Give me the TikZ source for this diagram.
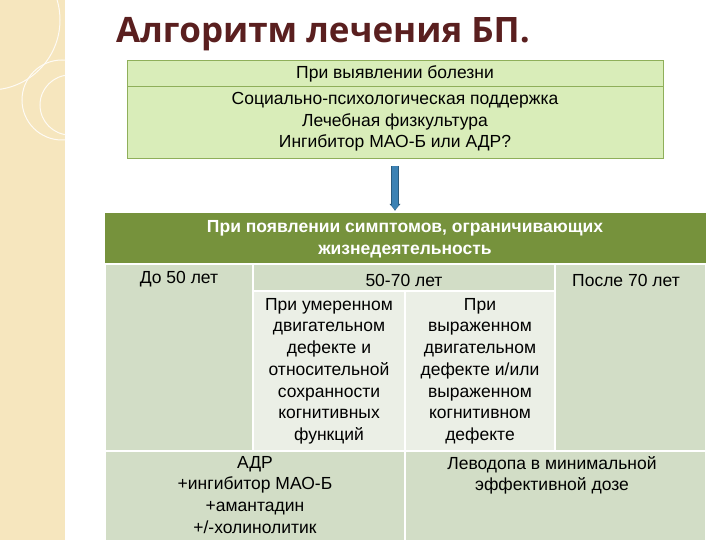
\documentclass[tikz,border=0pt]{standalone}
\usepackage{fontspec}
\setmainfont{Liberation Sans}
\newfontfamily\titlefont{Open Sans}
\usetikzlibrary{arrows.meta}
\begin{document}
\begin{tikzpicture}[x=1pt,y=-1pt,
  txt/.style={font=\fontsize{17.5}{21.7}\selectfont, align=center, text=black, inner sep=0},
  cellA/.style={fill=cellg, draw=white, line width=1.5pt},
  cellB/.style={fill=celll, draw=white, line width=1.5pt}]
\definecolor{beige}{HTML}{F6E6BE}
\definecolor{topg}{HTML}{D9EDB9}
\definecolor{topb}{HTML}{8FAF5A}
\definecolor{headg}{HTML}{76923C}
\definecolor{cellg}{HTML}{D2DDC6}
\definecolor{celll}{HTML}{EBEFE6}
\definecolor{titlec}{HTML}{5A1F1F}
\definecolor{arrc}{HTML}{3C82B4}
\useasboundingbox (0,0) rectangle (720,540);
\fill[white] (0,0) rectangle (720,540);
\fill[beige] (0,0) rectangle (65,540);
\begin{scope}
\clip (0,0) rectangle (65,540);
\draw[white!85!beige, line width=1pt] (62,100) circle (40);
\draw[white!85!beige, line width=1pt] (70,105) circle (30);
\draw[white!85!beige, line width=1pt] (-10,20) circle (70);
\end{scope}
\node[anchor=west, font=\titlefont\bfseries\fontsize{35}{40}\selectfont, text=titlec, inner sep=0] (title) at (116,34) {Алгоритм лечения БП.};
% top box
\draw[fill=topg, draw=topb] (127,60) rectangle (663,158);
\draw[topb] (127,86) -- (663,86);
\node[txt] (t1) at (395,74) {При выявлении болезни};
\node[txt] (t2) at (395,122) {Социально-психологическая поддержка\\Лечебная физкультура\\Ингибитор МАО-Б или АДР?};
\coordinate (a1) at (395,166);
\coordinate (a2) at (395,211);
\draw[arrc!70!black, line width=8pt, -{Latex[length=7pt,width=12pt]}] (a1) -- (a2);
\draw[arrc, line width=6pt, shorten >=1pt, -{Latex[length=5pt,width=9pt]}] (a1) -- (a2);
% table
\fill[headg] (105,213) rectangle (706,263);
\node[txt, text=white, font=\bfseries\fontsize{17.5}{21.7}\selectfont] (h) at (405,239) {При появлении симптомов, ограничивающих\\жизнедеятельность};
\draw[cellA] (105,264) rectangle (253,451);
\draw[cellA] (253,264) rectangle (555,291);
\draw[cellB] (253,291) rectangle (405,451);
\draw[cellB] (405,291) rectangle (555,451);
\draw[cellA] (555,264) rectangle (706,451);
\draw[cellA] (105,451) rectangle (405,545);
\draw[cellA] (405,451) rectangle (706,545);
\node[txt] (c1) at (179,279) {До 50 лет};
\node[txt] (c2) at (404,280) {50-70 лет};
\node[txt] (c3) at (626,280) {После 70 лет};
\node[txt, anchor=north] (c4) at (329,298) {При умеренном\\двигательном\\дефекте и\\относительной\\сохранности\\когнитивных\\функций};
\node[txt, anchor=north] (c5) at (480,298) {При\\выраженном\\двигательном\\дефекте и/или\\выраженном\\когнитивном\\дефекте};
\node[txt, anchor=north] (c6) at (255,456) {АДР\\+ингибитор МАО-Б\\+амантадин\\+/-холинолитик};
\node[txt, anchor=north] (c7) at (552,456) {Леводопа в минимальной\\эффективной дозе};
\end{tikzpicture}
\end{document}
